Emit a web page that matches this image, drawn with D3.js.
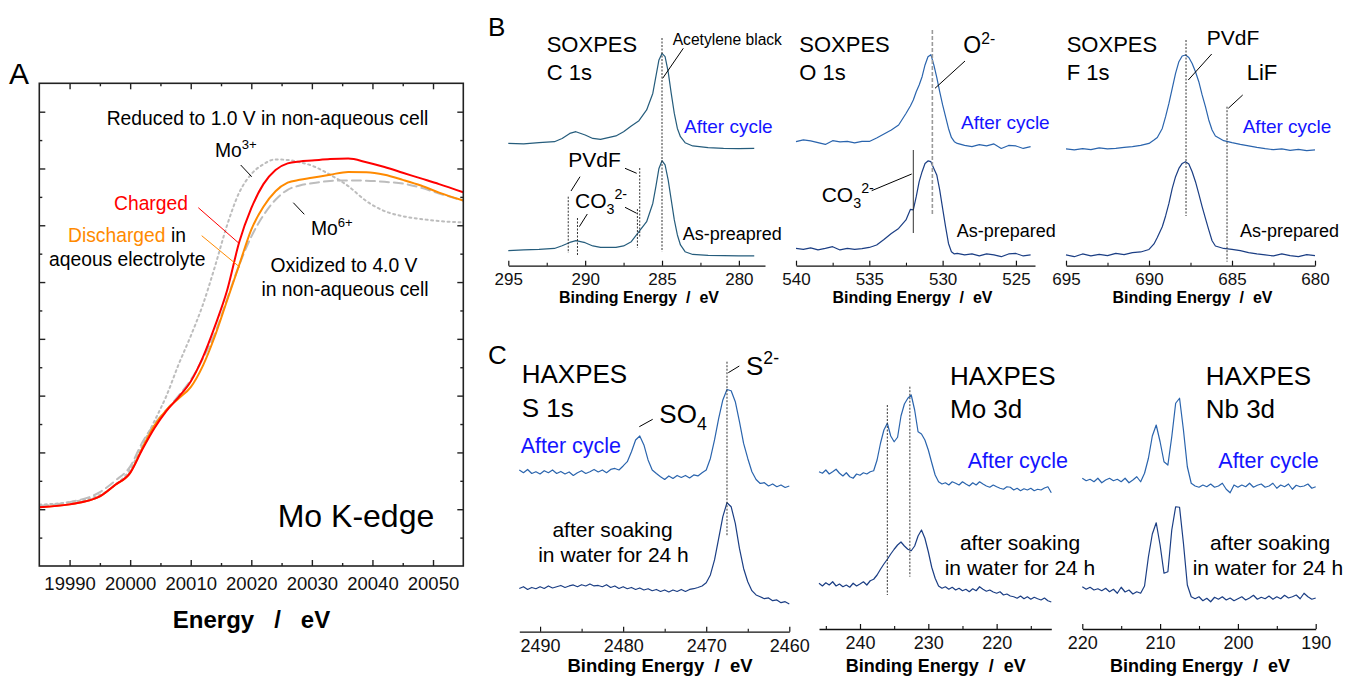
<!DOCTYPE html>
<html>
<head>
<meta charset="utf-8">
<script src="https://cdn.jsdelivr.net/npm/d3@7"></script>
<style>
  body { margin: 0; background: #fff; }
  svg { font-family: "Liberation Sans", Arial, Helvetica, sans-serif; }
</style>
</head>
<body>
<svg id="fig" width="1346" height="677"></svg>
<script>
// ---------- Panel A : Mo K-edge XANES (normalised absorbance) ----------
var kEnergy     = [19985, 19990, 19995, 19997.5, 20000, 20002, 20004, 20006, 20008, 20010, 20012, 20014, 20016, 20018,
                   20020, 20022, 20024, 20026, 20028, 20030, 20033, 20036, 20039, 20042, 20045, 20048, 20051, 20055];
var kCharged    = [0.007, 0.017, 0.045, 0.085, 0.128, 0.21, 0.285, 0.346, 0.395, 0.45, 0.535, 0.645, 0.77, 0.94,
                   1.06, 1.145, 1.195, 1.218, 1.225, 1.228, 1.233, 1.235, 1.222, 1.205, 1.185, 1.165, 1.145, 1.116];
var kDischarged = [0.007, 0.017, 0.045, 0.085, 0.128, 0.215, 0.295, 0.35, 0.39, 0.43, 0.505, 0.61, 0.735, 0.86,
                   0.985, 1.065, 1.12, 1.15, 1.16, 1.167, 1.178, 1.188, 1.187, 1.178, 1.16, 1.14, 1.115, 1.087];
var kMo3        = [0.016, 0.025, 0.05, 0.085, 0.14, 0.225, 0.31, 0.40, 0.51, 0.61, 0.72, 0.855, 1.0, 1.115,
                   1.18, 1.215, 1.232, 1.23, 1.222, 1.21, 1.178, 1.138, 1.085, 1.05, 1.032, 1.022, 1.015, 1.01];
var kMo6        = [0.012, 0.025, 0.06, 0.1, 0.15, 0.235, 0.30, 0.35, 0.40, 0.455, 0.53, 0.62, 0.74, 0.86,
                   0.96, 1.035, 1.09, 1.125, 1.14, 1.148, 1.156, 1.158, 1.157, 1.153, 1.147, 1.132, 1.112, 1.087];
var kTicks      = [19990, 20000, 20010, 20020, 20030, 20040, 20050];

// ---------- Panel B : SOXPES (intensity, a.u., spectra stacked) ----------
var c1sEnergy = [295, 294, 293, 292, 291.5, 291, 290.6, 290, 289.5, 289, 288, 287.5, 287, 286.5, 286, 285.6, 285.4,
                 285.2, 285.0, 284.8, 284.6, 284.4, 284.2, 284.0, 283.8, 283.5, 283.0, 282, 281, 280, 279];
var c1sAfter  = [48.9, 48.7, 49.2, 49.6, 50.9, 52.9, 53.6, 52.3, 50.9, 50.5, 51.9, 53.6, 55.9, 58.0, 62.3, 68.9, 75.6,
                 82.3, 84.9, 83.6, 77.6, 68.9, 60.9, 54.9, 51.6, 49.2, 47.9, 47.2, 46.9, 46.8, 46.9];
var c1sPrep   = [6.0, 6.3, 6.5, 6.9, 8.0, 9.3, 10.0, 9.2, 7.9, 7.3, 7.3, 7.9, 9.6, 13.6, 17.6, 24.9, 31.6,
                 38.9, 42.0, 40.3, 34.3, 26.3, 18.3, 12.3, 8.3, 5.6, 4.5, 4.1, 4.0, 3.9, 3.9];

var o1sEnergy = [540, 539.5, 539, 538.5, 538, 537.5, 537, 536.5, 536, 535.5, 535, 534.5, 534, 533.5, 533, 532.5, 532.2,
                 532, 531.8, 531.6, 531.4, 531.2, 531.0, 530.8, 530.6, 530.4, 530.2, 530.0, 529.8, 529.6, 529.4, 529.2,
                 529, 528.5, 528, 527.5, 527, 526.5, 526, 525.5, 525, 524.5, 524];
var o1sAfter  = [49.6, 50.3, 49.9, 49.2, 48.5, 50.0, 49.5, 49.7, 49.1, 49.7, 49.7, 51.1, 52.7, 54.3, 56.3, 60.9, 63.9,
                 66.3, 69.6, 72.3, 75.6, 80.3, 83.6, 84.4, 80.3, 75.3, 69.6, 64.3, 59.6, 54.9, 51.3, 49.6,
                 48.9, 48.1, 47.6, 48.4, 47.9, 48.7, 46.9, 48.1, 47.9, 46.9, 47.6];
var o1sPrep   = [6.9, 6.5, 7.1, 6.3, 6.9, 7.6, 6.3, 6.9, 6.5, 6.8, 7.3, 8.3, 10.5, 12.9, 14.9, 18.3, 22.5,
                 22.3, 27.6, 33.6, 37.6, 40.9, 41.9, 41.6, 38.9, 36.3, 30.3, 22.9, 15.6, 8.9, 5.6, 4.7,
                 4.9, 4.3, 4.7, 3.9, 4.7, 4.3, 3.6, 4.7, 4.9, 3.9, 4.3];

var f1sEnergy = [695, 694.5, 694, 693.5, 693, 692.5, 692, 691.5, 691, 690.5, 690, 689.7, 689.5, 689.2, 689, 688.8,
                 688.6, 688.4, 688.2, 688.0, 687.8, 687.6, 687.4, 687.2, 687.0, 686.8, 686.6, 686.4, 686.2, 686.0,
                 685.5, 685, 684.5, 684, 683.5, 683, 682.5, 682, 681.5, 681, 680.5, 680];
var f1sAfter  = [46.7, 46.3, 46.8, 46.4, 47.1, 46.7, 46.9, 47.3, 47.6, 48.1, 48.9, 50.3, 51.3, 54.9, 59.6, 64.9,
                 70.9, 76.9, 81.6, 83.9, 84.3, 83.3, 80.9, 77.6, 73.6, 68.3, 63.6, 58.3, 54.3, 51.9,
                 50.0, 49.2, 48.5, 47.9, 47.3, 46.8, 46.4, 46.7, 46.1, 46.5, 46.0, 46.3];
var f1sPrep   = [4.3, 3.6, 4.7, 3.9, 4.5, 4.0, 4.9, 4.4, 5.2, 5.5, 6.5, 8.7, 11.3, 15.6, 19.9, 24.9,
                 30.9, 35.6, 38.9, 40.9, 41.6, 40.7, 37.6, 33.6, 28.7, 23.6, 18.9, 14.3, 10.0, 7.9,
                 6.9, 6.5, 6.0, 5.2, 4.7, 4.3, 3.9, 4.7, 4.0, 3.6, 4.4, 4.0];

// ---------- Panel C : HAXPES (0.5 eV steps) ----------
var s1sEnergy = d3.range(2492.5, 2459.9, -0.5);
var s1sAfter  = [64.7, 63.6, 64.9, 63.3, 64.0, 63.1, 64.4, 63.6, 64.7, 63.3, 64.1, 63.1, 63.9, 62.5, 63.6, 64.4, 63.3,
                 64.0, 64.9, 63.9, 64.7, 63.6, 64.9, 65.3, 64.7, 66.3, 68.0, 72.0, 76.7, 78.3, 74.7, 68.7, 64.7, 63.3,
                 62.0, 60.9, 62.3, 61.3, 62.5, 61.7, 62.5, 61.5, 62.7, 62.3, 63.6, 64.7, 69.3, 76.7, 85.3, 92.7, 96.9,
                 96.4, 92.0, 84.0, 75.3, 69.3, 64.0, 60.9, 59.3, 59.6, 58.3, 59.1, 58.0, 58.7, 57.7, 58.3];
var s1sSoak   = [17.3, 18.0, 16.9, 17.7, 17.2, 18.0, 17.3, 18.3, 17.5, 18.0, 18.5, 17.7, 18.3, 18.7, 18.0, 18.8, 18.3,
                 19.1, 18.3, 18.5, 18.0, 18.8, 17.7, 18.3, 17.3, 18.0, 17.2, 17.7, 16.9, 17.5, 16.7, 17.2, 16.4, 16.9,
                 16.1, 16.7, 15.9, 16.7, 16.1, 16.9, 16.1, 16.9, 17.2, 17.7, 18.3, 19.6, 22.7, 28.7, 37.3, 46.0, 51.6,
                 50.0, 43.3, 33.3, 25.3, 20.0, 16.4, 14.7, 14.0, 13.2, 13.5, 12.4, 12.7, 11.6, 12.0, 11.1];

var mo3dEnergy = d3.range(246, 211.9, -0.5);
var mo3dAfter  = [62.9, 62.3, 63.6, 62.0, 62.9, 63.9, 62.3, 61.2, 62.5, 60.9, 60.3, 62.0, 61.5, 62.5, 62.0, 62.9, 63.3,
                  67.6, 74.3, 79.6, 82.3, 77.2, 74.9, 76.7, 85.2, 90.0, 92.3, 93.6, 87.6, 78.9, 78.0, 75.6, 71.6, 66.5,
                  61.6, 58.9, 58.0, 58.5, 57.6, 58.9, 58.3, 57.6, 58.9, 58.0, 57.2, 58.5, 57.6, 58.9, 58.0, 57.2, 56.7,
                  57.6, 56.9, 56.3, 55.9, 56.9, 56.7, 55.6, 56.3, 55.3, 56.1, 55.6, 56.3, 55.3, 55.9, 55.6, 56.4, 56.9,
                  54.5];
var mo3dSoak   = [18.3, 17.2, 18.5, 17.6, 18.9, 17.2, 18.0, 16.9, 17.6, 16.7, 18.3, 17.2, 18.0, 18.9, 17.6, 19.3, 19.9,
                  21.6, 23.9, 26.0, 27.9, 30.0, 31.9, 33.6, 34.8, 33.2, 31.9, 31.3, 33.2, 37.2, 39.6, 36.3, 30.9, 24.7,
                  20.3, 17.2, 16.3, 16.9, 15.9, 16.7, 15.6, 16.3, 15.3, 15.9, 14.9, 16.1, 15.3, 16.9, 15.9, 15.1, 15.6,
                  14.8, 14.3, 14.9, 13.6, 14.0, 13.2, 12.9, 12.3, 13.2, 12.1, 12.9, 11.9, 12.7, 12.1, 11.6, 12.4, 11.3,
                  10.8];

var nb3dEnergy = d3.range(220, 189.9, -0.5);
var nb3dAfter  = [60.3, 59.3, 59.9, 58.9, 60.3, 58.5, 59.6, 60.3, 59.3, 59.9, 58.9, 60.3, 58.5, 59.6, 60.9, 58.9, 62.3,
                  68.3, 77.2, 81.6, 74.9, 66.9, 65.6, 76.9, 90.3, 92.3, 79.6, 64.9, 58.3, 57.2, 56.7, 57.6, 56.9, 58.0,
                  56.7, 57.2, 58.3, 55.9, 54.5, 57.6, 56.7, 57.6, 56.9, 58.3, 56.7, 57.5, 58.0, 56.7, 57.2, 58.3, 56.3,
                  57.6, 56.9, 58.0, 55.9, 57.5, 56.9, 57.2, 58.0, 56.3, 56.9];
var nb3dSoak   = [16.9, 15.9, 16.7, 15.6, 16.1, 15.3, 16.3, 14.9, 15.9, 14.3, 16.7, 14.8, 15.6, 14.0, 14.9, 14.3, 17.2,
                  28.9, 38.0, 42.5, 33.6, 22.3, 22.9, 39.6, 48.9, 48.7, 34.3, 17.6, 12.9, 12.1, 12.9, 11.3, 12.3, 10.9,
                  12.7, 11.9, 12.9, 11.6, 12.4, 11.3, 12.1, 12.9, 11.6, 12.4, 13.5, 11.9, 12.7, 12.1, 13.2, 11.9, 12.9,
                  12.1, 13.5, 12.4, 12.9, 13.6, 12.1, 14.3, 12.9, 11.9, 12.4];

// ---------- colours ----------
var red = "#ff0000", orange = "#ff8a00", grey = "#bdbdbd";
var blueText = "#1414ff", afterCol = "#2a64ad", prepCol = "#1b3e84", cCol = "#255c7c";

var svg = d3.select("#fig");

// text with sub/superscript pieces
function addText(g, x, y, size, parts, opt) {
    opt = opt || {};
    var t = g.append("text").attr("x", x).attr("y", y)
        .attr("font-size", size)
        .attr("fill", opt.fill || "#000")
        .attr("text-anchor", opt.anchor || "start");
    if (opt.bold) t.attr("font-weight", "bold");
    if (opt.pre) t.style("white-space", "pre");
    var shift = 0;
    parts.forEach(function(p) {
        if (typeof p === "string") p = {t: p};
        var target = p.sup ? -0.42 * size : (p.sub ? 0.28 * size : 0);
        var s = t.append("tspan").text(p.t).attr("dy", target - shift);
        if (p.sup || p.sub) s.attr("font-size", size * 0.68);
        if (p.fill) s.attr("fill", p.fill);
        shift = target;
    });
    return t;
}

function leader(g, x1, y1, x2, y2, col, dash, w) {
    g.append("line").attr("x1", x1).attr("y1", y1).attr("x2", x2).attr("y2", y2)
        .attr("stroke", col || "#000").attr("stroke-width", w || 1)
        .attr("stroke-dasharray", dash || null);
}

// ================= Panel A =================
var gA = svg.append("g");
var xA = d3.scaleLinear().domain([19985, 20055]).range([39.3, 463.3]);
var yA = d3.scaleLinear().domain([-0.2, 1.5]).range([566, 83.3]);

gA.append("clipPath").attr("id", "clipA").append("rect")
    .attr("x", 39.3).attr("y", 83.3).attr("width", 424).attr("height", 482.7);

var kLine = function(vals) {
    return d3.line().curve(d3.curveMonotoneX)
        .x(function(d, i) { return xA(kEnergy[i]); })
        .y(function(d) { return yA(d); })(vals);
};
var kCurves = [
    {v: kMo3, c: grey, dash: "2,3.5", w: 2},
    {v: kMo6, c: grey, dash: "9,5", w: 2},
    {v: kDischarged, c: orange, dash: null, w: 2},
    {v: kCharged, c: red, dash: null, w: 2}
];
gA.append("g").attr("clip-path", "url(#clipA)").selectAll("path").data(kCurves).enter()
    .append("path")
    .attr("d", function(d) { return kLine(d.v); })
    .attr("fill", "none")
    .attr("stroke", function(d) { return d.c; })
    .attr("stroke-width", function(d) { return d.w; })
    .attr("stroke-dasharray", function(d) { return d.dash; })
    .attr("stroke-linecap", "round");

// frame ticks (all inward)
var minorX = [19995, 20005, 20015, 20025, 20035, 20045];
var majorY = [0, 0.2, 0.4, 0.6, 0.8, 1.0, 1.2, 1.4];
var minorY = [-0.1, 0.1, 0.3, 0.5, 0.7, 0.9, 1.1, 1.3];
function styleFrameAxis(sel) {
    sel.select(".domain").remove();
    sel.selectAll(".tick line").attr("stroke", "#222").attr("stroke-width", 1.4);
}
gA.append("g").attr("transform", "translate(0,566)")
    .call(d3.axisBottom(xA).tickValues(kTicks).tickSize(-6).tickPadding(11).tickFormat(d3.format("d")))
    .call(styleFrameAxis)
    .selectAll("text").attr("font-size", 18.5).attr("fill", "#111")
    .style("font-family", "'Liberation Sans', Arial, sans-serif");
gA.append("g").attr("transform", "translate(0,566)")
    .call(d3.axisBottom(xA).tickValues(minorX).tickSize(-3).tickFormat("")).call(styleFrameAxis);
gA.append("g").attr("transform", "translate(0,83.3)")
    .call(d3.axisTop(xA).tickValues(kTicks).tickSize(-6).tickFormat("")).call(styleFrameAxis);
gA.append("g").attr("transform", "translate(0,83.3)")
    .call(d3.axisTop(xA).tickValues(minorX).tickSize(-3).tickFormat("")).call(styleFrameAxis);
gA.append("g").attr("transform", "translate(39.3,0)")
    .call(d3.axisLeft(yA).tickValues(majorY).tickSize(-6).tickFormat("")).call(styleFrameAxis);
gA.append("g").attr("transform", "translate(39.3,0)")
    .call(d3.axisLeft(yA).tickValues(minorY).tickSize(-3).tickFormat("")).call(styleFrameAxis);
gA.append("g").attr("transform", "translate(463.3,0)")
    .call(d3.axisRight(yA).tickValues(majorY).tickSize(-6).tickFormat("")).call(styleFrameAxis);
gA.append("g").attr("transform", "translate(463.3,0)")
    .call(d3.axisRight(yA).tickValues(minorY).tickSize(-3).tickFormat("")).call(styleFrameAxis);

gA.append("rect").attr("x", 39.3).attr("y", 83.3).attr("width", 424).attr("height", 482.7)
    .attr("fill", "none").attr("stroke", "#222").attr("stroke-width", 1.6);

addText(gA, 9, 84, 30, ["A"]);
addText(gA, 106.7, 125, 19.3, ["Reduced to 1.0 V in non-aqueous cell"]);
addText(gA, 215, 157, 19.3, ["Mo", {t: "3+", sup: 1}]);
leader(gA, 240.7, 165, 251.7, 176.7);
addText(gA, 114, 210, 19.3, ["Charged"], {fill: red});
leader(gA, 198.3, 207.7, 239, 243.3, red);
addText(gA, 68, 242, 19.3, [{t: "Discharged", fill: orange}, " in"]);
leader(gA, 201.7, 235.7, 240, 267.3, orange);
addText(gA, 49, 265.7, 19.3, ["aqeous electrolyte"]);
addText(gA, 311, 235, 19.3, ["Mo", {t: "6+", sup: 1}]);
leader(gA, 293.3, 202.7, 304.3, 214.3);
addText(gA, 344, 271.7, 19.3, ["Oxidized to 4.0 V"], {anchor: "middle"});
addText(gA, 345, 296, 19.3, ["in non-aqueous cell"], {anchor: "middle"});
addText(gA, 277.7, 527, 32, ["Mo K-edge"]);
addText(gA, 251.5, 628, 24, ["Energy   /   eV"], {anchor: "middle", bold: 1, pre: 1});

// ================= Panels B and C =================
function drawSpectra(p) {
    var g = svg.append("g");
    var x = d3.scaleLinear().domain(p.domain).range(p.range);
    var y = d3.scaleLinear().domain([0, 100]).range([p.axisY, p.axisY - 250]);
    var line = d3.line()
        .x(function(d, i) { return x(p.energy[i]); })
        .y(function(d) { return y(d); });
    p.series.forEach(function(s) {
        g.append("path").attr("d", line(s.v))
            .attr("fill", "none").attr("stroke", s.c).attr("stroke-width", 1.2)
            .attr("stroke-linejoin", "round");
    });
    var ax = g.append("g").attr("transform", "translate(0," + p.axisY + ")")
        .call(d3.axisBottom(x).tickValues(p.major).tickSize(-5).tickSizeOuter(0)
            .tickPadding(p.pad).tickFormat(d3.format("d")));
    ax.select(".domain").attr("stroke", "#111").attr("stroke-width", 1.3);
    ax.selectAll(".tick line").attr("stroke", "#111").attr("stroke-width", 1.2);
    ax.selectAll("text").attr("font-size", p.tickSize).attr("fill", "#111")
        .style("font-family", "'Liberation Sans', Arial, sans-serif");
    var mx = g.append("g").attr("transform", "translate(0," + p.axisY + ")")
        .call(d3.axisBottom(x).tickValues(p.minor).tickSize(-3).tickSizeOuter(0).tickFormat(""));
    mx.select(".domain").remove();
    mx.selectAll(".tick line").attr("stroke", "#111").attr("stroke-width", 1.1);
    addText(g, p.titleX, p.titleY, p.titleSize, ["Binding Energy  /  eV"], {anchor: "middle", bold: 1, pre: 1});
    return {g: g, x: x, y: y};
}

// ---- B : C 1s ----
var pC1s = drawSpectra({
    domain: [295, 278.3], range: [508.3, 765], axisY: 265.7, energy: c1sEnergy,
    series: [{v: c1sAfter, c: cCol}, {v: c1sPrep, c: cCol}],
    major: [295, 290, 285, 280], minor: [292.5, 287.5, 282.5], pad: 7, tickSize: 17,
    titleX: 639, titleY: 303, titleSize: 16
});
var g = pC1s.g, x = pC1s.x;
addText(g, 488, 36, 26, ["B"]);
addText(g, 546.7, 51.7, 22, ["SOXPES"]);
addText(g, 546.7, 80, 22, ["C 1s"]);
leader(g, x(285.0), 38, x(285.0), 251.7, "#333", "2,1.5");
addText(g, 672.7, 45, 15.6, ["Acetylene black"]);
leader(g, 683.3, 48.3, 662.7, 78.3);
addText(g, 684, 133, 19, ["After cycle"], {fill: blueText});
addText(g, 682.7, 240, 18, ["As-preapred"]);
addText(g, 568.3, 166.7, 21, ["PVdF"]);
addText(g, 575, 208.3, 21, ["CO", {t: "3", sub: 1}, {t: "2-", sup: 1}]);
leader(g, x(291.1), 196.7, x(291.1), 253, "#333", "2,1.5");
leader(g, x(286.45), 168, x(286.45), 237, "#333", "2,1.5");
leader(g, x(290.5), 218, x(290.5), 255, "#333", "2,1.5");
leader(g, x(286.6), 209, x(286.6), 248, "#333", "2,1.5");
leader(g, 580, 176.7, 571, 191);
leader(g, 625, 168.3, 636.7, 173.3);
leader(g, 587.3, 214, 579.3, 226.7);
leader(g, 625, 207.3, 636.7, 213.3);

// ---- B : O 1s ----
var pO1s = drawSpectra({
    domain: [540, 523.7], range: [796, 1035], axisY: 265.7, energy: o1sEnergy,
    series: [{v: o1sAfter, c: afterCol}, {v: o1sPrep, c: prepCol}],
    major: [540, 535, 530, 525], minor: [537.5, 532.5, 527.5], pad: 7, tickSize: 17,
    titleX: 912.5, titleY: 303, titleSize: 16
});
g = pO1s.g; x = pO1s.x;
addText(g, 799.3, 51.7, 22, ["SOXPES"]);
addText(g, 799.3, 80, 22, ["O 1s"]);
leader(g, x(530.7), 30, x(530.7), 215, "#9a9a9a", "4,2", 1.6);
leader(g, x(532.0), 150, x(532.0), 233, "#333");
addText(g, 963.3, 53.3, 23, ["O", {t: "2-", sup: 1}]);
leader(g, 965, 61, 935, 88.3);
addText(g, 821.7, 201.7, 21, ["CO", {t: "3", sub: 1}, {t: "2-", sup: 1}]);
leader(g, 871.7, 190.7, 911.7, 174);
addText(g, 961, 129.3, 19, ["After cycle"], {fill: blueText});
addText(g, 956.7, 236.7, 18, ["As-prepared"]);

// ---- B : F 1s ----
var pF1s = drawSpectra({
    domain: [695, 680], range: [1066, 1315], axisY: 265.7, energy: f1sEnergy,
    series: [{v: f1sAfter, c: afterCol}, {v: f1sPrep, c: prepCol}],
    major: [695, 690, 685, 680], minor: [692.5, 687.5, 682.5], pad: 7, tickSize: 17,
    titleX: 1192.5, titleY: 303, titleSize: 16
});
g = pF1s.g; x = pF1s.x;
addText(g, 1066.7, 51.7, 22, ["SOXPES"]);
addText(g, 1066.7, 80, 22, ["F 1s"]);
leader(g, x(687.77), 40, x(687.77), 216, "#333", "2,1.5");
leader(g, x(685.3), 106.7, x(685.3), 261.7, "#333", "2,1.5");
addText(g, 1206.7, 45, 21, ["PVdF"]);
leader(g, 1211.7, 54, 1188.3, 80);
addText(g, 1246.7, 80, 22, ["LiF"]);
leader(g, 1242.7, 95, 1228.3, 108.3);
addText(g, 1242.7, 133, 19, ["After cycle"], {fill: blueText});
addText(g, 1240, 236.7, 18, ["As-prepared"]);

// ---- C : S 1s ----
var pS1s = drawSpectra({
    domain: [2492.5, 2460], range: [519.3, 789.3], axisY: 631.7, energy: s1sEnergy,
    series: [{v: s1sAfter, c: afterCol}, {v: s1sSoak, c: prepCol}],
    major: [2490, 2480, 2470, 2460], minor: [2485, 2475, 2465], pad: 8, tickSize: 18,
    titleX: 660, titleY: 671.5, titleSize: 18.5
});
g = pS1s.g; x = pS1s.x;
addText(g, 488, 364, 26, ["C"]);
addText(g, 521.7, 383.3, 26, ["HAXPES"]);
addText(g, 521.7, 417.3, 26, ["S 1s"]);
addText(g, 659.3, 422.7, 26, ["SO", {t: "4", sub: 1}]);
leader(g, 652.7, 419.3, 639.3, 426.7);
addText(g, 746, 375, 26, ["S", {t: "2-", sup: 1}]);
leader(g, 739.3, 366, 728.3, 372.7);
leader(g, x(2467.5), 361.7, x(2467.5), 536.7, "#333", "2,1.5");
addText(g, 520.7, 453.3, 21.5, ["After cycle"], {fill: blueText});
addText(g, 612.5, 536.7, 21, ["after soaking"], {anchor: "middle"});
addText(g, 613.5, 561.7, 21, ["in water for 24 h"], {anchor: "middle"});

// ---- C : Mo 3d ----
var pMo = drawSpectra({
    domain: [246, 212], range: [819, 1051.3], axisY: 629, energy: mo3dEnergy,
    series: [{v: mo3dAfter, c: afterCol}, {v: mo3dSoak, c: prepCol}],
    major: [240, 230, 220], minor: [245, 235, 225, 215], pad: 7, tickSize: 18,
    titleX: 935.8, titleY: 671.5, titleSize: 18
});
g = pMo.g; x = pMo.x;
addText(g, 950, 385, 26, ["HAXPES"]);
addText(g, 950, 418.3, 26, ["Mo 3d"]);
leader(g, x(236.0), 405, x(236.0), 595, "#333", "2,1.5");
leader(g, x(232.7), 386.7, x(232.7), 576.7, "#333", "2,1.5");
addText(g, 967.7, 468.3, 21.5, ["After cycle"], {fill: blueText});
addText(g, 1020, 550, 21, ["after soaking"], {anchor: "middle"});
addText(g, 1020, 575, 21, ["in water for 24 h"], {anchor: "middle"});

// ---- C : Nb 3d ----
var pNb = drawSpectra({
    domain: [220, 190], range: [1082.3, 1315.7], axisY: 629, energy: nb3dEnergy,
    series: [{v: nb3dAfter, c: afterCol}, {v: nb3dSoak, c: prepCol}],
    major: [220, 210, 200, 190], minor: [215, 205, 195], pad: 7, tickSize: 18,
    titleX: 1200, titleY: 671.5, titleSize: 18
});
g = pNb.g; x = pNb.x;
addText(g, 1205.7, 385, 26, ["HAXPES"]);
addText(g, 1205.7, 418.3, 26, ["Nb 3d"]);
addText(g, 1218.3, 468.3, 21.5, ["After cycle"], {fill: blueText});
addText(g, 1270, 550, 21, ["after soaking"], {anchor: "middle"});
addText(g, 1268, 575, 21, ["in water for 24 h"], {anchor: "middle"});
</script>
</body>
</html>
